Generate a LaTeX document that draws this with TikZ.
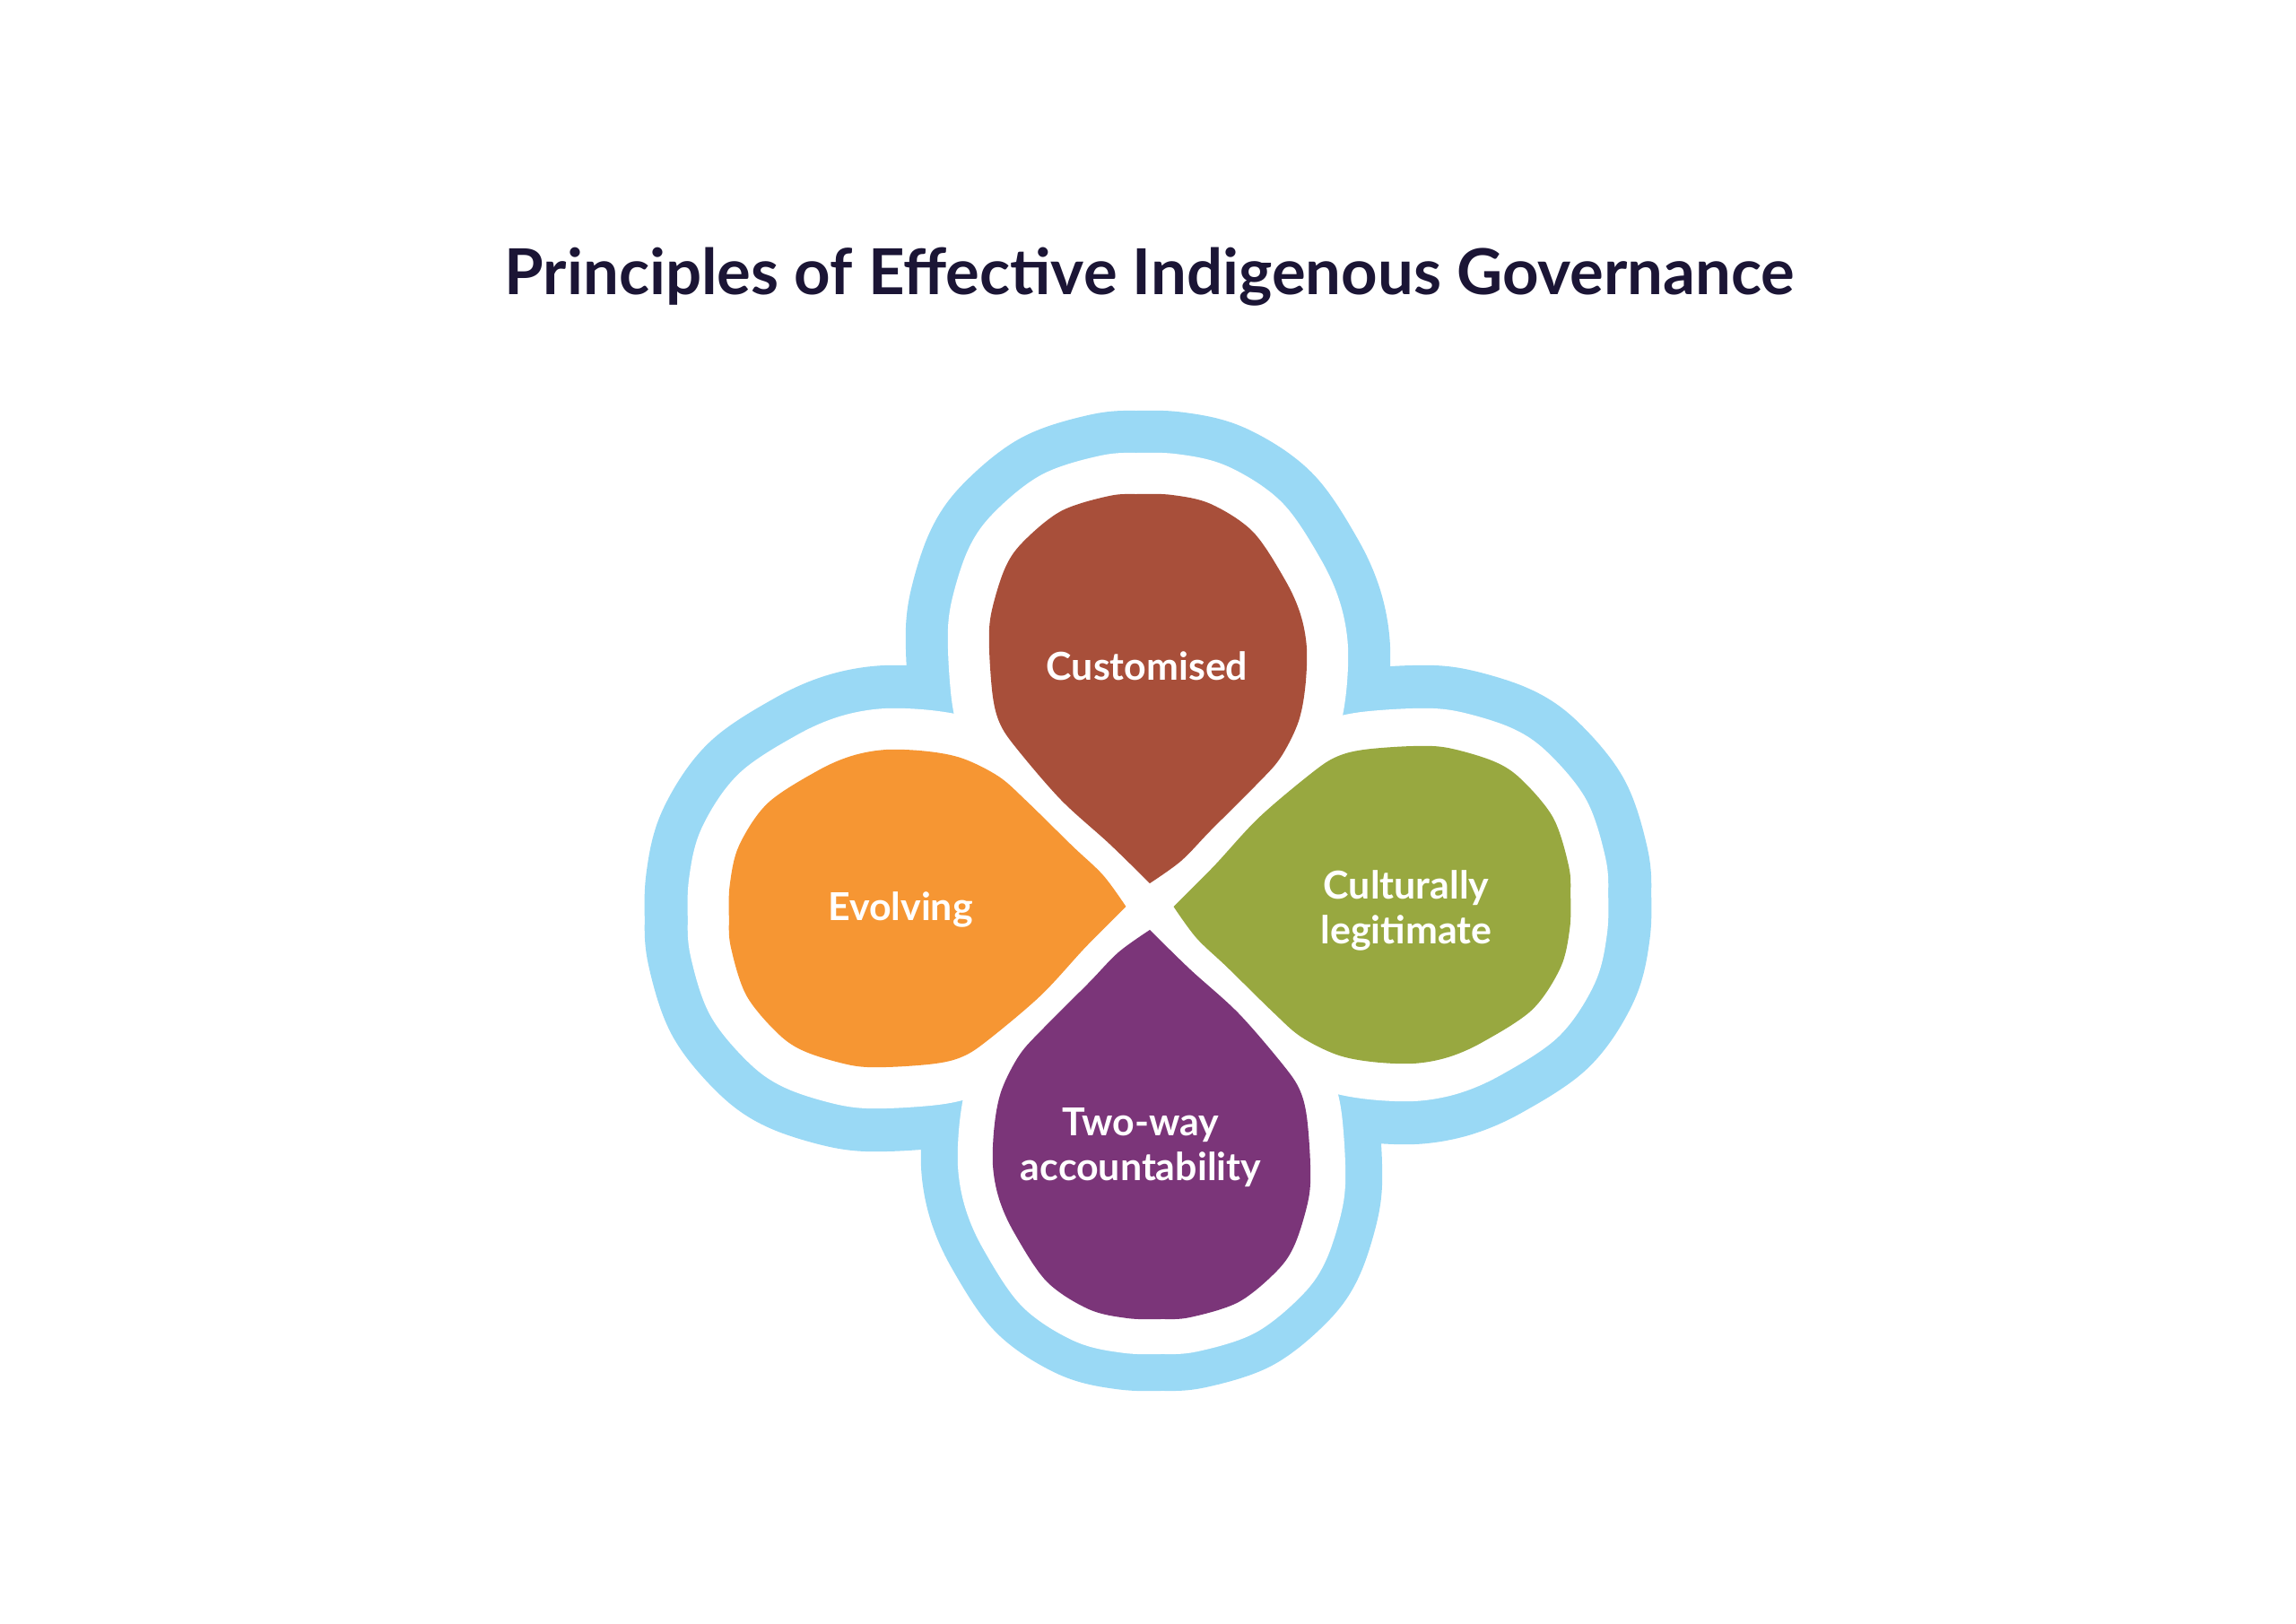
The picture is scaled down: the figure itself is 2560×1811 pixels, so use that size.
\documentclass[tikz,border=0pt]{standalone}
\usepackage{fontspec}
\setmainfont{Lato}
\definecolor{clbrown}{HTML}{A84F3A}
\definecolor{clorange}{HTML}{F69633}
\definecolor{clgreen}{HTML}{98A840}
\definecolor{clpurple}{HTML}{7B3579}
\definecolor{clblue}{HTML}{9AD9F5}
\definecolor{clnavy}{HTML}{1B1535}
\tikzset{
  petal/.pic = {
    \path[#1, line join=round] plot[smooth, tension=0.55] coordinates {
      (0,26) (-45,70) (-99,119) (-149,177) (-167,204) (-175,234) (-179,288)
      (-177,326) (-162,376) (-142,406) (-99,441) (-45,458) (-12,460) (25,459)
      (68,449) (115,418) (151,364) (168,326) (175,288) (173,242) (165,204)
      (145,165) (118,135) (68,85) (35,51) (0,26)} -- cycle;
  },
  titletext/.style = {text=clnavy, font=\bfseries\fontsize{20.1}{24}\selectfont},
  petaltext/.style = {text=white, align=center, font=\bfseries\fontsize{12.2}{14.2}\selectfont}
}

\begin{document}
\begin{tikzpicture}[x=0.1mm, y=0.1mm]
% 画像の範囲
\useasboundingbox (-1282,-800) rectangle (1278,1011);

% タイトル
\node[titletext] (title) at (0,702) {Principles of Effective Indigenous Governance};

% 外側の水色の枠
\foreach \ang/\len/\bw in {0/1/18.6, 90/1.02/18.8, 180/1/16, 270/1.02/18}
  \path (0,0) pic[rotate=\ang, yscale=\len] {petal={fill=clblue, draw=clblue, line width=\bw mm}};

% 枠と花びらの間の白いすき間
\foreach \ang/\len/\ww in {0/1/9.2, 90/1.02/9.2, 180/1/7.8, 270/1.02/8.4}
  \path (0,0) pic[rotate=\ang, yscale=\len] {petal={fill=white, draw=white, line width=\ww mm}};

% 4枚の花びら
\foreach \ang/\len/\col in {0/1/clbrown, 90/1.02/clorange, 180/1/clpurple, 270/1.02/clgreen}
  \path (0,0) pic[rotate=\ang, yscale=\len] {petal={fill=\col}};

% ラベル
\node[petaltext] (customised) at (-3,268) {Customised};
\node[petaltext] (evolving) at (-278,-3) {Evolving};
\node[petaltext] (cultural) at (286,-4) {Culturally\\legitimate};
\node[petaltext] (twoway) at (-10,-269) {Two-way\\accountability};
\end{tikzpicture}
\end{document}
